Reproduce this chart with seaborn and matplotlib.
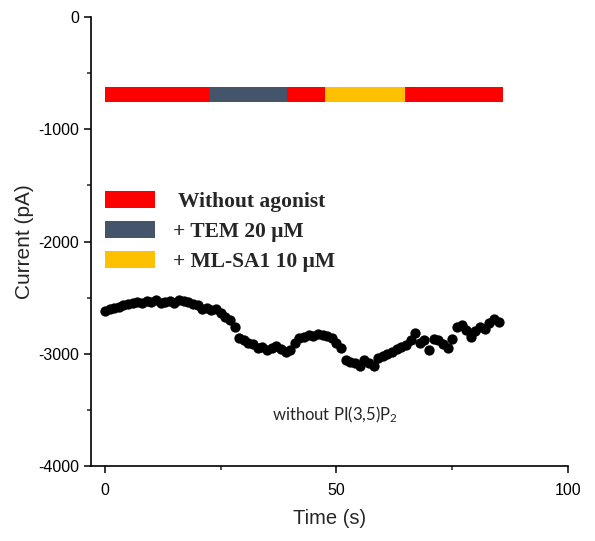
import numpy as np
import pandas as pd
import matplotlib
matplotlib.use("Agg")
import matplotlib.pyplot as plt
from matplotlib.patches import Patch
from matplotlib.ticker import MultipleLocator
import seaborn as sns

# ---- data ----
time_s = list(range(0, 86))
current_pA = [
    -2615, -2605, -2595, -2585, -2570, -2555, -2545, -2535, -2550, -2530,
    -2540, -2525, -2550, -2540, -2530, -2545, -2525, -2530, -2540, -2555,
    -2570, -2600, -2595, -2610, -2600, -2640, -2670, -2700, -2760, -2860,
    -2880, -2900, -2910, -2950, -2940, -2970, -2950, -2930, -2960, -2980,
    -2970, -2900, -2860, -2850, -2830, -2840, -2820, -2830, -2840, -2860,
    -2900, -2950, -3060, -3070, -3080, -3110, -3060, -3080, -3110, -3040,
    -3020, -3000, -2980, -2960, -2940, -2920, -2880, -2815, -2900, -2880,
    -2970, -2870, -2880, -2910, -2950, -2870, -2760, -2740, -2790, -2850,
    -2800, -2760, -2780, -2730, -2690, -2720,
]

seg_start = [0.0, 22.7, 39.3, 47.5, 64.9]
seg_end = [22.7, 39.3, 47.5, 64.9, 86.0]
seg_cond = ["Without agonist", "+ TEM 20 µM", "Without agonist", "+ ML-SA1 10 µM", "Without agonist"]
bar_level = -690
bar_thickness = 134

legend_labels = [" Without agonist", "+ TEM 20 \u03bcM", "+ ML-SA1 10 \u03bcM"]
cond_colors = {"Without agonist": "#FF0000", "+ TEM 20 µM": "#44546A", "+ ML-SA1 10 µM": "#FFC000"}
legend_colors = ["#FF0000", "#44546A", "#FFC000"]

annotation = "without PI(3,5)P$_2$"
ann_xy = (49.7, -3545)

# ---- plot ----
sns.set_theme(style="ticks")
plt.rcParams["font.family"] = ["Liberation Sans", "DejaVu Sans"]
plt.rcParams["mathtext.default"] = "regular"
plt.rcParams["axes.unicode_minus"] = False

fig = plt.figure(figsize=(5.95, 5.41), dpi=100)
ax = fig.add_axes([0.153, 0.1386, 0.8017, 0.83])

df = pd.DataFrame({"t": time_s, "I": current_pA})
sns.scatterplot(data=df, x="t", y="I", ax=ax, color="black", s=55, linewidth=0, legend=False, zorder=3)

widths = [e - s for s, e in zip(seg_start, seg_end)]
ax.barh([bar_level] * len(seg_start), widths, left=seg_start, height=bar_thickness,
        color=[cond_colors[c] for c in seg_cond], edgecolor="none", zorder=2)

handles = [Patch(facecolor=c, edgecolor="none") for c in legend_colors]
leg = ax.legend(handles, legend_labels, loc="upper left", frameon=False, borderpad=0, borderaxespad=0,
                handlelength=2.33, handleheight=0.84, handletextpad=0.84, labelspacing=0.42,
                prop={"family": "Liberation Serif", "weight": "bold", "size": 15.5})
leg.set_bbox_to_anchor((0.0, -1548), transform=ax.transData)

ax.text(ann_xy[0], ann_xy[1], annotation, ha="center", va="center", fontsize=12,
        family=["Lato", "DejaVu Sans"])

ax.set_xlim(-3, 100)
ax.set_ylim(-4000, 0)
ax.xaxis.set_major_locator(MultipleLocator(50))
ax.xaxis.set_minor_locator(MultipleLocator(25))
ax.yaxis.set_major_locator(MultipleLocator(1000))
ax.yaxis.set_minor_locator(MultipleLocator(500))
ax.tick_params(which="major", length=5, width=1.1, direction="out", labelsize=11.5, colors="black")
ax.tick_params(axis="x", which="major", pad=7)
ax.tick_params(which="minor", length=3, width=1.1, direction="out")
for side in ["top", "right"]:
    ax.spines[side].set_visible(False)
for side in ["left", "bottom"]:
    ax.spines[side].set_linewidth(1.2)
    ax.spines[side].set_color("black")
ax.set_xlabel("Time (s)", fontsize=14.5, labelpad=8)
ax.set_ylabel("Current (pA)", fontsize=15, labelpad=3)

fig.savefig("out.png", dpi=100)
